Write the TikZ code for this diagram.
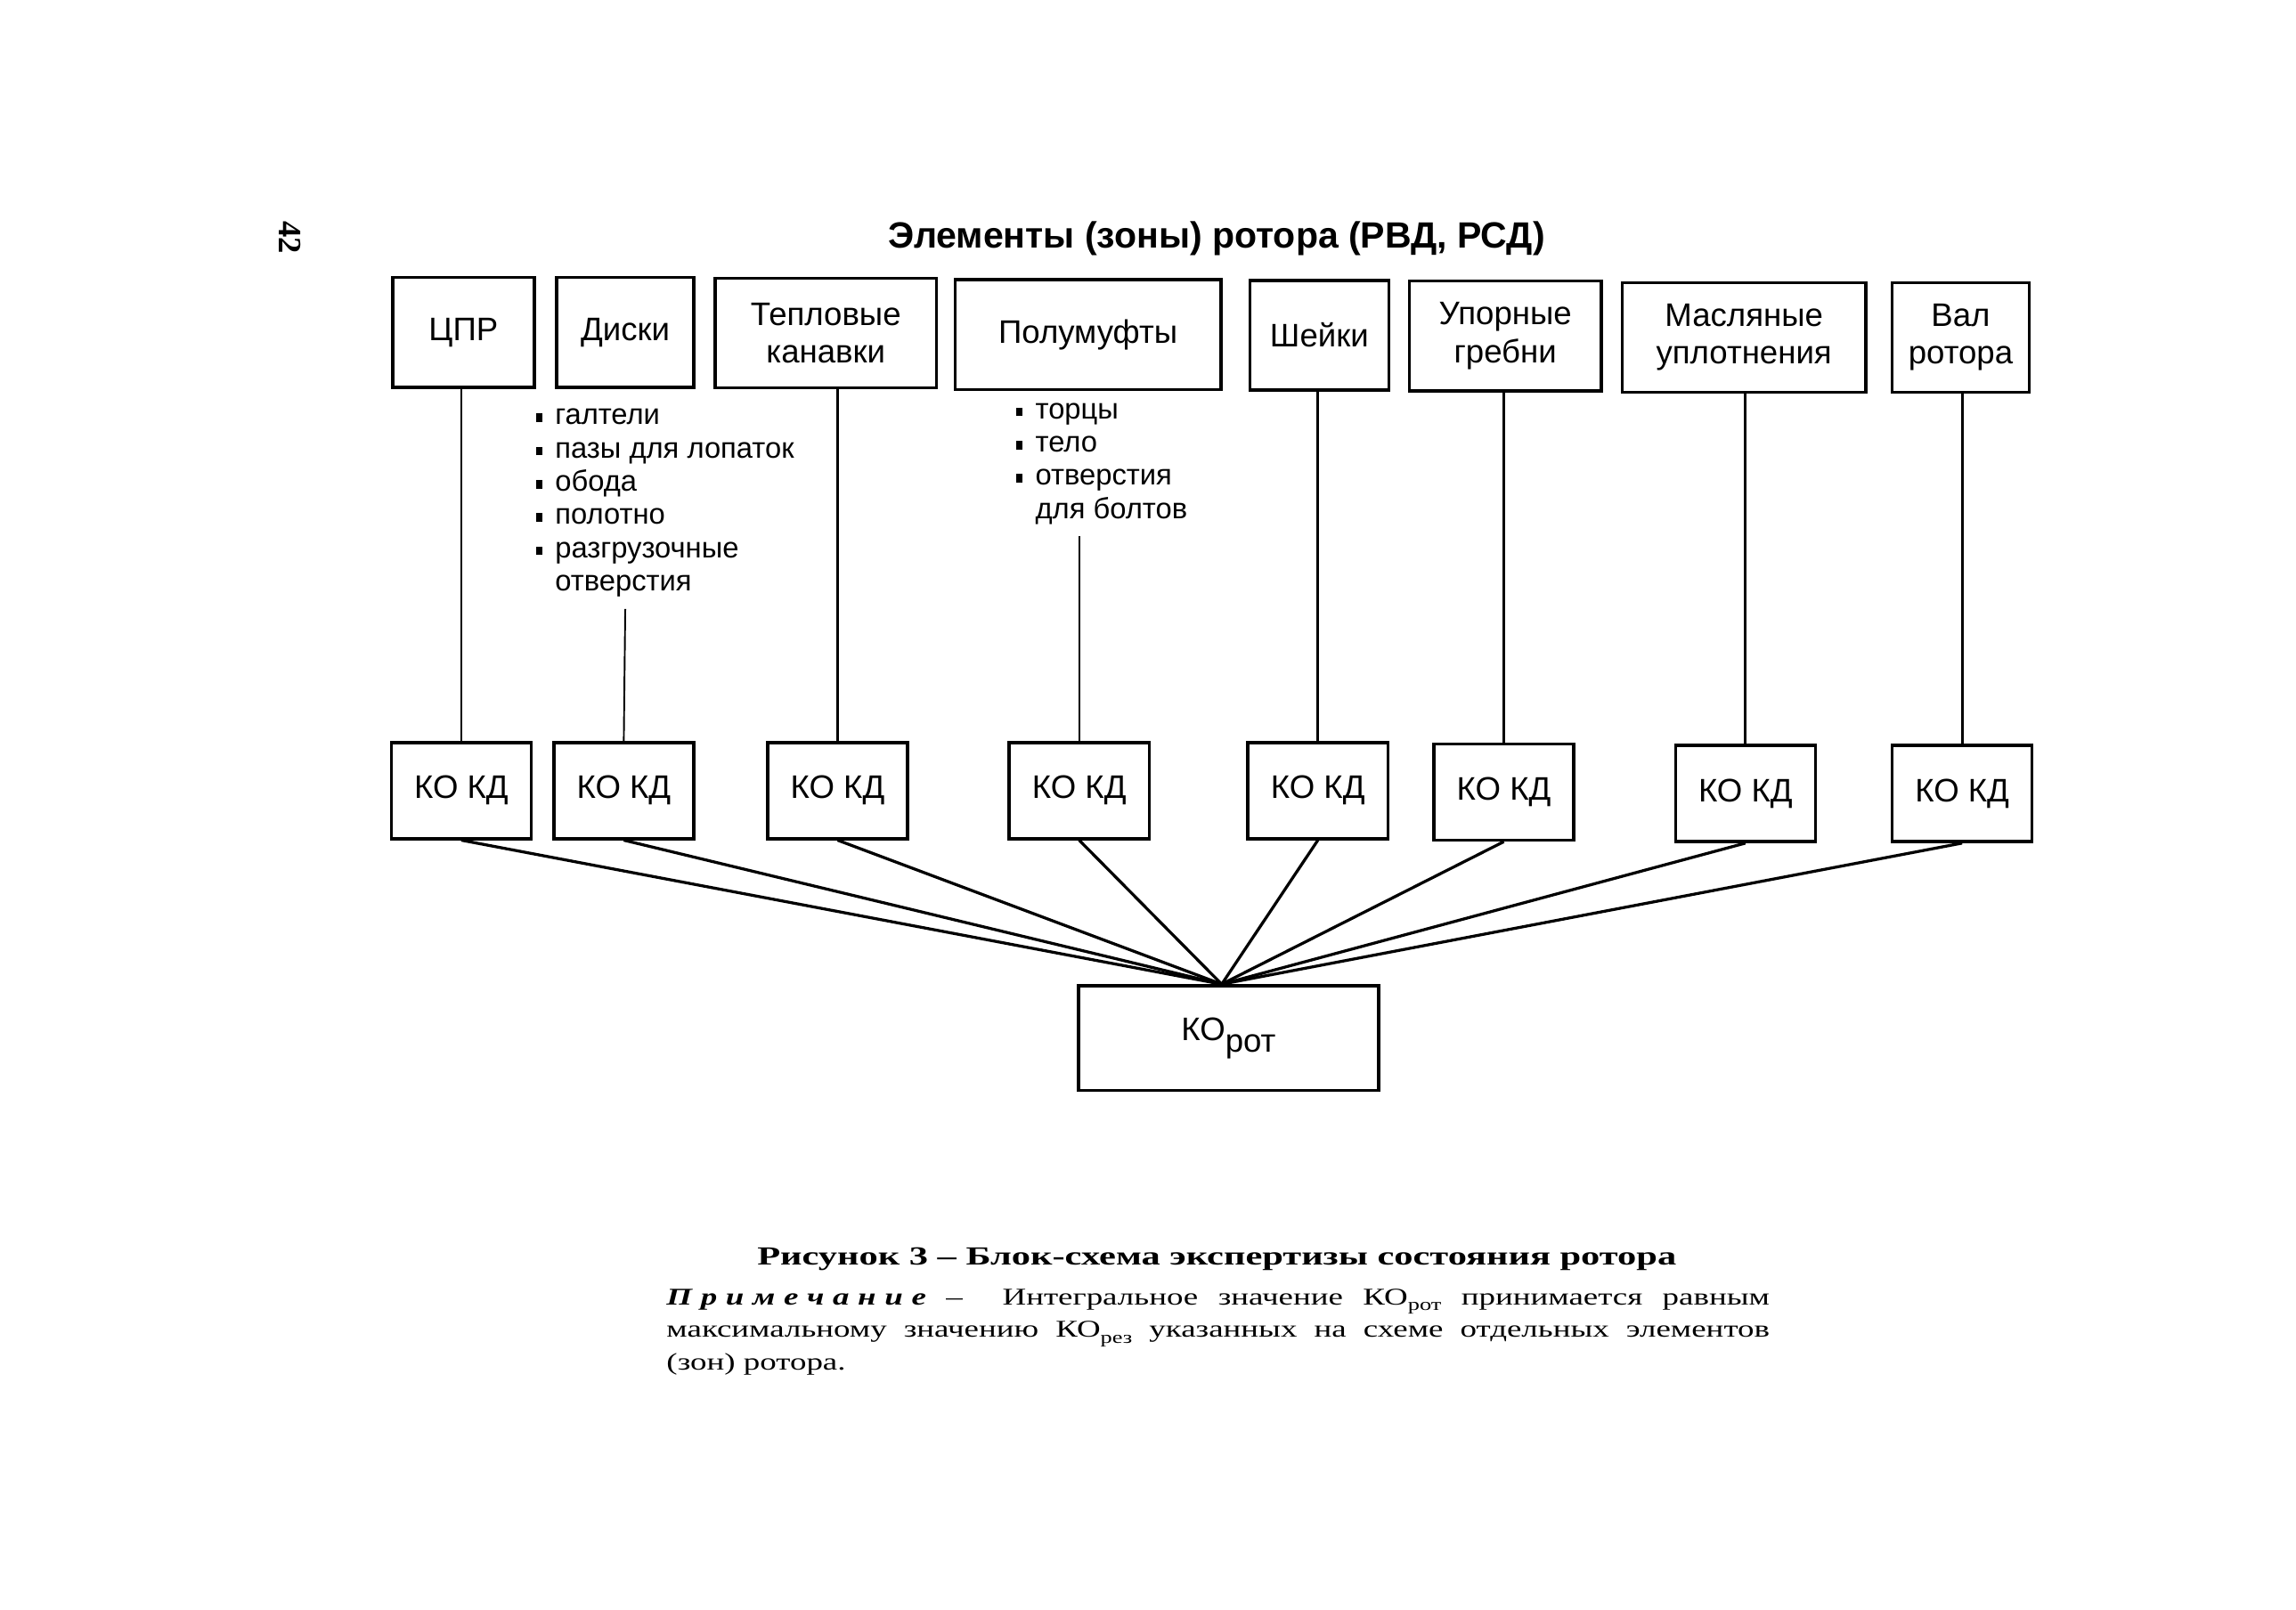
\documentclass[tikz,border=0pt]{standalone}
\usepackage{fontspec}
\setmainfont{Liberation Serif}
\setsansfont{Liberation Sans}
\newfontfamily\capfont[FakeStretch=1.45]{Liberation Serif}
\newfontfamily\notefont[FakeStretch=1.37]{Liberation Serif}
\newcommand{\blt}{\makebox[11pt][l]{\rule[1.5pt]{3.5pt}{5pt}}}
\newcommand{\bltsp}{\hspace*{11pt}}
\newcommand{\ls}{\kern5pt}
\newcommand{\sbs}[1]{\raisebox{-0.55ex}{\fontsize{10}{10}\selectfont #1}}
\tikzset{
  elbox/.style={draw, line width=1.8pt, inner sep=0pt, minimum height=64pt, align=center,
    font=\sffamily\fontsize{19}{22}\selectfont},
  kobox/.style={draw, line width=1.8pt, inner sep=0pt, minimum width=81.6pt, minimum height=56pt,
    font=\sffamily\fontsize{19}{22}\selectfont},
  listtxt/.style={inner sep=0pt, align=left, font=\sffamily\fontsize{17}{19.4}\selectfont},
  vline/.style={line width=1.4pt},
  thinline/.style={line width=1pt},
  fanline/.style={line width=1.7pt}
}
\begin{document}
\begin{tikzpicture}[x=0.3mm, y=-0.3mm]
\useasboundingbox (0,0) rectangle (1568,1099.1);
\node[rotate=-90, inner sep=0pt, font=\bfseries\fontsize{19}{19}\selectfont] (pagenum) at (198,162) {42};
\node[inner sep=0pt, font=\sffamily\bfseries\fontsize{21.3}{24}\selectfont] (title) at (831,163) {Элементы (зоны) ротора (РВД, РСД)};

% elements of the rotor
\node[elbox, minimum width=82.5pt] (cpr) at (316.5,227) {ЦПР};
\node[elbox, minimum width=80pt] (dsk) at (427,227) {Диски};
\node[elbox, minimum width=129pt] (tep) at (564,227.5) {Тепловые\\канавки};
\node[elbox, minimum width=155pt] (pol) at (743,228.5) {Полумуфты};
\node[elbox, minimum width=81pt] (shk) at (901,229) {Шейки};
\node[elbox, minimum width=112pt] (upr) at (1028,229.5) {Упорные\\гребни};
\node[elbox, minimum width=142pt] (msl) at (1191,230.5) {Масляные\\уплотнения};
\node[elbox, minimum width=80pt] (val) at (1339,230.5) {Вал\\ротора};

\node[listtxt, anchor=north west] (dlist) at (366,279) {\blt галтели\\ \blt пазы для лопаток\\ \blt обода\\ \blt полотно\\ \blt разгрузочные\\ \bltsp отверстия};
\node[listtxt, anchor=north west] (plist) at (694,275) {\blt торцы\\ \blt тело\\ \blt отверстия\\ \bltsp для болтов};
\coordinate (dend) at (427,416);
\coordinate (pend) at (737,366);

\foreach \n/\x/\y in {1/315/540, 2/426/540, 3/572/540, 4/737/540, 5/900/540, 6/1027/541, 7/1192/542, 8/1340/542}
  \node[kobox] (ko\n) at (\x,\y) {КО КД};
\node[kobox, minimum width=175pt, minimum height=61pt] (rot) at (839,709) {КО\raisebox{-0.35em}{рот}};

\draw[vline] (ko1.north) -- (ko1.north |- cpr.south);
\draw[thinline] (ko2.north) -- (dend);
\draw[vline] (ko3.north) -- (ko3.north |- tep.south);
\draw[thinline] (ko4.north) -- (pend);
\draw[vline] (ko5.north) -- (ko5.north |- shk.south);
\draw[vline] (ko6.north) -- (ko6.north |- upr.south);
\draw[vline] (ko7.north) -- (ko7.north |- msl.south);
\draw[vline] (ko8.north) -- (ko8.north |- val.south);

\coordinate (hub) at ([xshift=-4pt]rot.north);
\foreach \n in {1,...,8}
  \draw[fanline] (ko\n.south) -- (hub);

\node[inner sep=0pt, font=\capfont\bfseries\fontsize{15.2}{18}\selectfont] (cap) at (831,860) {Рисунок 3 – Блок-схема экспертизы состояния ротора};
\node[anchor=north west, inner sep=0pt, text width=643pt, align=justify,
  font=\notefont\fontsize{14}{19.1}\selectfont] (note) at (455,880)
  {\textbf{\textit{П\ls р\ls и\ls м\ls е\ls ч\ls а\ls н\ls и\ls е}}~– \ Интегральное значение КО\sbs{рот} принимается равным\linebreak
  максимальному значению КО\sbs{рез} указанных на схеме отдельных элементов\linebreak
  (зон) ротора.};
\end{tikzpicture}
\end{document}
